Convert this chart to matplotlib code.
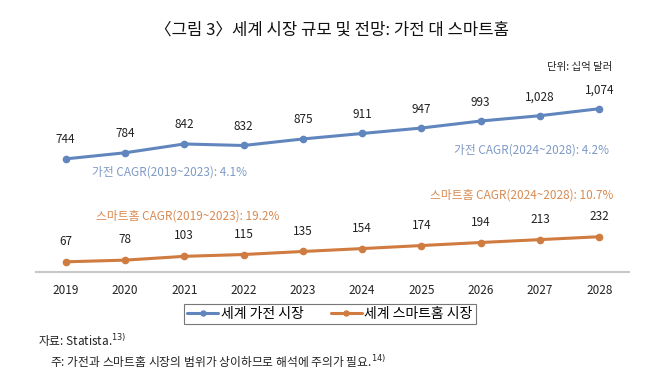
import matplotlib
matplotlib.use("Agg")
import matplotlib.pyplot as plt

plt.rcParams['font.family'] = ['Noto Sans CJK KR', 'DejaVu Sans']

years = ["2019", "2020", "2021", "2022", "2023", "2024", "2025", "2026", "2027", "2028"]
appliance = [744, 784, 842, 832, 875, 911, 947, 993, 1028, 1074]
smarthome = [67, 78, 103, 115, 135, 154, 174, 194, 213, 232]
appliance_labels = ["744", "784", "842", "832", "875", "911", "947", "993", "1,028", "1,074"]
smarthome_labels = ["67", "78", "103", "115", "135", "154", "174", "194", "213", "232"]

blue = "#6186be"
orange = "#d07b3f"
blue_txt = "#7f9ac6"
orange_txt = "#d98a52"

fig = plt.figure(figsize=(6.58, 3.84), dpi=100)
ax = fig.add_axes([36/658, 1-272/384, (629-36)/658, (272-90)/384])
x = list(range(len(years)))
ax.plot(x, appliance, color=blue, lw=2.2, marker='o', ms=4.5, label="세계 가전 시장", solid_capstyle='round')
ax.plot(x, smarthome, color=orange, lw=2.2, marker='o', ms=4.5, label="세계 스마트홈 시장", solid_capstyle='round')
ax.set_xlim(-0.5, len(years) - 0.5)
ax.set_ylim(0, 1197)
for i, (v, s) in enumerate(zip(appliance, appliance_labels)):
    ax.annotate(s, (i, v), xytext=(0, 9), textcoords='offset points', ha='center', va='bottom', fontsize=8.5, color='#222222')
for i, (v, s) in enumerate(zip(smarthome, smarthome_labels)):
    ax.annotate(s, (i, v), xytext=(0, 10), textcoords='offset points', ha='center', va='bottom', fontsize=8.5, color='#222222')

for sp in ['top', 'right', 'left']:
    ax.spines[sp].set_visible(False)
ax.spines['bottom'].set_color('#c8c8c8')
ax.spines['bottom'].set_linewidth(1.5)
ax.set_yticks([])
ax.set_xticks(x)
ax.set_xticklabels(years, fontsize=8.5, color='#222222')
ax.tick_params(axis='x', length=0, pad=9)

fig.text(170/658, 1-172/384, "가전 CAGR(2019~2023): 4.1%", ha='center', va='center', fontsize=8.5, color=blue_txt)
fig.text(532/658, 1-150/384, "가전 CAGR(2024~2028): 4.2%", ha='center', va='center', fontsize=8.5, color=blue_txt)
fig.text(522/658, 1-195/384, "스마트홈 CAGR(2024~2028): 10.7%", ha='center', va='center', fontsize=8.5, color=orange_txt)
fig.text(188/658, 1-216/384, "스마트홈 CAGR(2019~2023): 19.2%", ha='center', va='center', fontsize=8.5, color=orange_txt)

fig.text(332/658, 1-30/384, "〈그림 3〉세계 시장 규모 및 전망: 가전 대 스마트홈", ha='center', va='center', fontsize=12, color='#111111')
fig.text(612/658, 1-67/384, "단위: 십억 달러", ha='right', va='center', fontsize=7.5, color='#222222')

leg = fig.legend(loc='center', bbox_to_anchor=(330/658, 1-314/384), ncol=2, frameon=True, fancybox=False,
                 edgecolor='#555555', fontsize=10, handlelength=2.2, handletextpad=0.2, columnspacing=2.0,
                 borderpad=0.25, markerscale=0.8)
leg.get_frame().set_linewidth(0.8)

fig.text(38/658, 1-341/384, "자료: Statista.$^{13)}$", ha='left', va='center', fontsize=8.5, color='#222222')
fig.text(50/658, 1-362/384, "주: 가전과 스마트홈 시장의 범위가 상이하므로 해석에 주의가 필요.$^{14)}$", ha='left', va='center', fontsize=8.5, color='#222222')

fig.savefig("out.png", dpi=100)
